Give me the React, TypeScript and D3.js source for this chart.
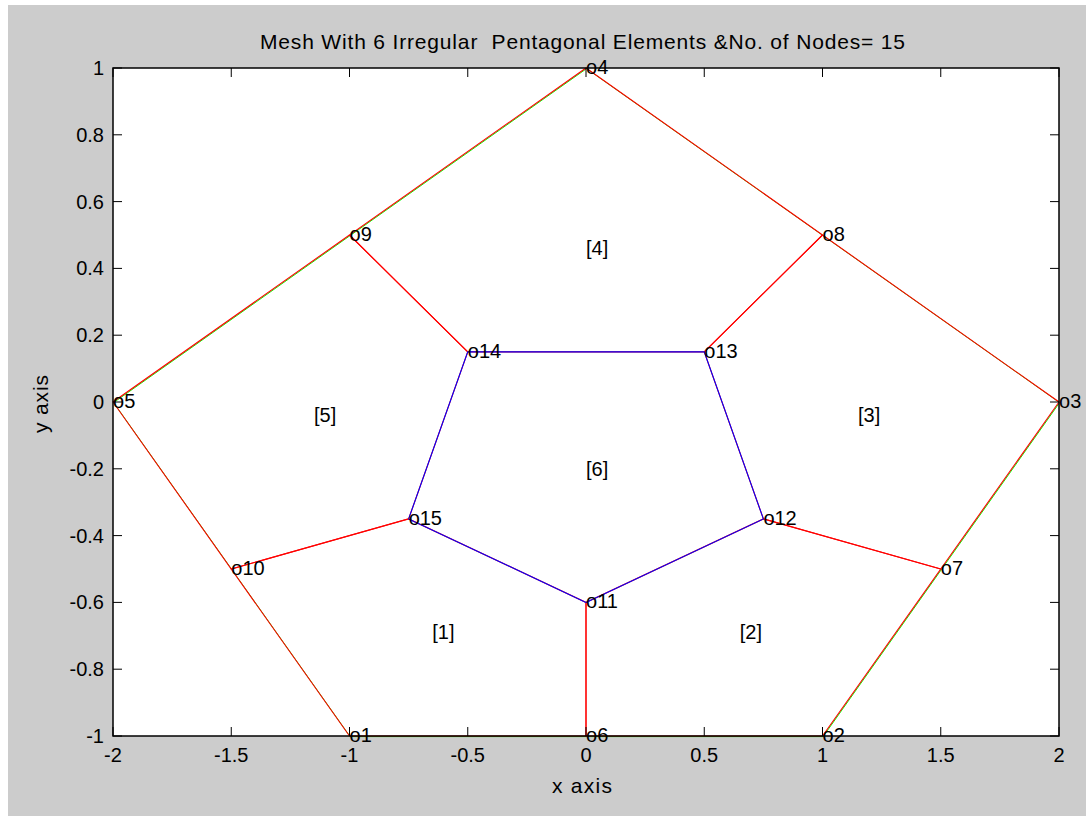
import React from "react";
import * as d3 from "d3";

// Node coordinates (node number = index + 1)
const nodeX = [-1, 1, 2, 0, -2, 0, 1.5, 1, -1, -1.5, 0, 0.75, 0.5, -0.5, -0.75];
const nodeY = [-1, -1, 0, 1, 0, -1, -0.5, 0.5, 0.5, -0.5, -0.6, -0.35, 0.15, 0.15, -0.35];

// Element connectivity (1-based node numbers)
const elements = [
  [1, 6, 11, 15, 10],
  [6, 2, 7, 12, 11],
  [7, 3, 8, 13, 12],
  [8, 4, 9, 14, 13],
  [9, 5, 10, 15, 14],
  [11, 12, 13, 14, 15],
];
const elementColors = ["red", "red", "red", "red", "red", "blue"];

// Outer boundary traced in green underneath the element edges
const boundary = [5, 9, 4, 8, 3, 7, 2, 6, 1, 10, 5];

const xTicks = [-2, -1.5, -1, -0.5, 0, 0.5, 1, 1.5, 2];
const yTicks = [-1, -0.8, -0.6, -0.4, -0.2, 0, 0.2, 0.4, 0.6, 0.8, 1];

const title = "Mesh With 6 Irregular  Pentagonal Elements &No. of Nodes= 15";

const W = 1086;
const H = 816;
const plot = { left: 113, top: 68, right: 1059, bottom: 736 };
const FONT = "Arial, 'Liberation Sans', Helvetica, sans-serif";
const FS = 20;

export default function App() {
  const x = d3.scaleLinear().domain([-2, 2]).range([plot.left, plot.right]);
  const y = d3.scaleLinear().domain([-1, 1]).range([plot.bottom, plot.top]);
  const line = d3
    .line<number>()
    .x((n) => x(nodeX[n - 1]))
    .y((n) => y(nodeY[n - 1]));

  const fmt = (v: number) => String(v);
  const tickLen = 9;

  return (
    <svg
      width={W}
      height={H}
      style={{ position: "absolute", left: 0, top: 0, display: "block" }}
      fontFamily={FONT}
    >
      <rect x={0} y={0} width={W} height={H} fill="#ffffff" />
      <rect x={8} y={5} width={W - 8} height={H - 5} fill="#cccccc" />
      <rect
        x={plot.left}
        y={plot.top}
        width={plot.right - plot.left}
        height={plot.bottom - plot.top}
        fill="#ffffff"
      />

      {/* boundary */}
      <path
        d={line(boundary) || ""}
        transform="translate(0.6,0.6)"
        fill="none"
        stroke="#00ff00"
        strokeWidth={1}
      />

      {/* element edges */}
      {elements.map((el, i) => (
        <path
          key={i}
          d={line([...el, el[0]]) || ""}
          fill="none"
          stroke={elementColors[i]}
          strokeWidth={1.1}
        />
      ))}

      {/* element numbers at centroids */}
      {elements.map((el, i) => {
        const cx = d3.mean(el, (n) => nodeX[n - 1]) as number;
        const cy = d3.mean(el, (n) => nodeY[n - 1]) as number;
        return (
          <text key={i} x={x(cx)} y={y(cy)} dy="0.35em" fontSize={FS} fill="#000">
            [{i + 1}]
          </text>
        );
      })}

      {/* node labels */}
      {nodeX.map((nx, i) => (
        <text key={i} x={x(nx)} y={y(nodeY[i])} dy="0.3em" fontSize={FS} fill="#000">
          o{i + 1}
        </text>
      ))}

      {/* axes box */}
      <rect
        x={plot.left}
        y={plot.top}
        width={plot.right - plot.left}
        height={plot.bottom - plot.top}
        fill="none"
        stroke="#000"
        strokeWidth={1.5}
      />

      {/* x ticks */}
      {xTicks.map((t) => (
        <g key={"x" + t}>
          <line x1={x(t)} x2={x(t)} y1={plot.bottom} y2={plot.bottom - tickLen} stroke="#000" />
          <line x1={x(t)} x2={x(t)} y1={plot.top} y2={plot.top + tickLen} stroke="#000" />
          <text x={x(t)} y={762} textAnchor="middle" fontSize={FS} fill="#000">
            {fmt(t)}
          </text>
        </g>
      ))}

      {/* y ticks */}
      {yTicks.map((t) => (
        <g key={"y" + t}>
          <line x1={plot.left} x2={plot.left + tickLen} y1={y(t)} y2={y(t)} stroke="#000" />
          <line x1={plot.right} x2={plot.right - tickLen} y1={y(t)} y2={y(t)} stroke="#000" />
          <text x={104} y={y(t)} dy="0.35em" textAnchor="end" fontSize={FS} fill="#000">
            {fmt(t)}
          </text>
        </g>
      ))}

      <text
        x={260}
        y={49}
        fontSize={21}
        fill="#000"
        textLength={645}
        lengthAdjust="spacing"
        style={{ whiteSpace: "pre" }}
      >
        {title}
      </text>
      <text
        x={582}
        y={793}
        textAnchor="middle"
        fontSize={21}
        fill="#000"
        textLength={60}
        lengthAdjust="spacing"
      >
        x axis
      </text>
      <text
        transform="translate(48,404) rotate(-90)"
        textAnchor="middle"
        fontSize={21}
        fill="#000"
        textLength={58}
        lengthAdjust="spacing"
      >
        y axis
      </text>
    </svg>
  );
}
